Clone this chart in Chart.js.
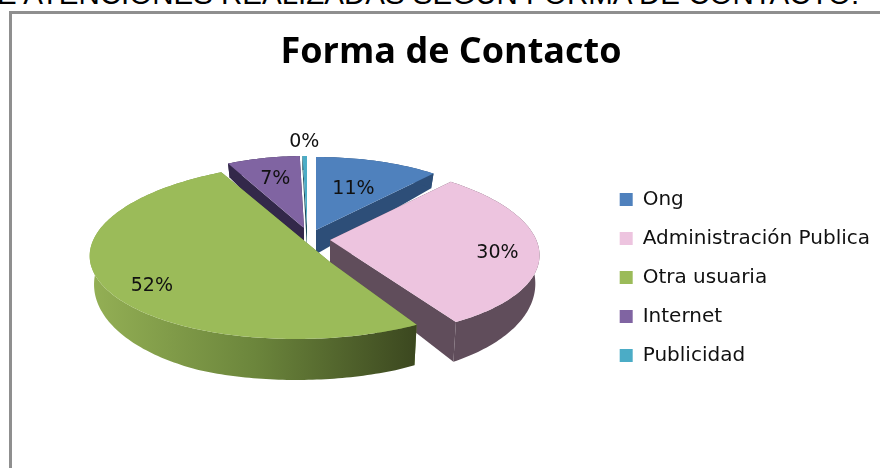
<!DOCTYPE html>
<html><head><meta charset="utf-8">
<style>
html,body{margin:0;padding:0;background:#fff;overflow:hidden}
#page{position:relative;width:880px;height:468px;overflow:hidden;background:#fff}
#head{position:absolute;left:-3px;top:-23px;white-space:nowrap;font:29.5px "Liberation Sans",Arial,sans-serif;color:#000}
#frame{position:absolute;left:9px;top:11px;width:880px;height:470px;border-left:3px solid #8f8f8f;border-top:3px solid #8f8f8f}
canvas{position:absolute;left:0;top:0}
</style></head><body>
<div id="page">
<div id="head">E ATENCIONES REALIZADAS SEGÚN FORMA DE CONTACTO:</div>
<div id="frame"></div>
<canvas id="c" width="880" height="468"></canvas>
</div>
<script src="https://cdn.jsdelivr.net/npm/chart.js@4/dist/chart.umd.min.js"></script>
<script>
const categories = ["Ong","Administración Publica","Otra usuaria","Internet","Publicidad"];
const values = [11, 30, 52, 7, 0.4];
const titleText = "Forma de Contacto";
const colors = ["#4F81BD","#EDC4DF","#9BBB59","#8064A2","#4BACC6"];
const wallColors = ["#2D4E78","#604D5B","#6F8A3E","#33284A","#1E4F5C"];
// 3D projection of each wedge: ellipse centre, radii, lean and wedge apex
const frames = [
 {cx:316,cy:230,a:185,b:73,s:0,ax:316,ay:230},
 {cx:329,cy:249,a:210,b:87,s:-15,ax:330,ay:240},
 {cx:308,cy:251,a:218,b:88,s:12,ax:330,ay:262},
 {cx:304,cy:228,a:170,b:72,s:0,ax:304,ay:228},
 {cx:307,cy:226,a:180,b:70,s:0,ax:307,ay:226}
];
const labelRadius = [0.6,0.8,0.8,0.7,1.2];
const paintOrder = [0,4,3,1,2];

const depth = y => Math.min(41, Math.max(14, 14 + (y-170)*0.17));
function rim(f,t){return {x:f.cx+f.a*Math.sin(t)+f.s*Math.cos(t), y:f.cy-f.b*Math.cos(t)};}
function drop(p,f){return {x:f.cx+(p.x-f.cx)*0.98, y:p.y+depth(p.y)};}

const pie3d = {
  id:'pie3d',
  beforeDatasetDraw(chart){
    const ctx = chart.ctx, arcs = chart.getDatasetMeta(0).data;
    const total = values.reduce((p,c)=>p+c,0);
    for(const i of paintOrder){
      const arc = arcs[i], f = frames[i];
      const t0 = arc.startAngle+Math.PI/2, t1 = arc.endAngle+Math.PI/2;
      const pts=[]; const n=Math.max(4,Math.ceil((t1-t0)/0.02));
      for(let k=0;k<=n;k++) pts.push(rim(f,t0+(t1-t0)*k/n));
      const apex={x:f.ax,y:f.ay}, low=drop(apex,f);
      ctx.fillStyle=wallColors[i];
      for(const e of [pts[0],pts[n]]){
        const d=drop(e,f);
        ctx.beginPath();ctx.moveTo(apex.x,apex.y);ctx.lineTo(e.x,e.y);ctx.lineTo(d.x,d.y);ctx.lineTo(low.x,low.y);ctx.closePath();ctx.fill();
      }
      let fill=wallColors[i];
      if(i===2){
        const g=ctx.createLinearGradient(90,0,417,0);
        g.addColorStop(0,"#94B055");g.addColorStop(0.5,"#6C863C");g.addColorStop(1,"#3B471F");
        fill=g;
      }
      ctx.fillStyle=fill;
      ctx.beginPath();
      pts.forEach((p,k)=>k?ctx.lineTo(p.x,p.y):ctx.moveTo(p.x,p.y));
      for(let k=n;k>=0;k--){const d=drop(pts[k],f);ctx.lineTo(d.x,d.y);}
      ctx.closePath();ctx.fill();
      ctx.fillStyle=colors[i];
      ctx.beginPath();ctx.moveTo(apex.x,apex.y);
      pts.forEach(p=>ctx.lineTo(p.x,p.y));
      ctx.closePath();ctx.fill();
    }
    ctx.fillStyle="#111";ctx.font='19px "DejaVu Sans"';ctx.textAlign="center";ctx.textBaseline="middle";
    arcs.forEach((arc,i)=>{
      const f=frames[i], t=(arc.startAngle+arc.endAngle)/2+Math.PI/2, r=labelRadius[i];
      const x=f.cx+r*(f.a*Math.sin(t)+f.s*Math.cos(t)), y=f.cy-r*f.b*Math.cos(t);
      ctx.fillText(Math.round(values[i]/total*100)+"%",x,y);
    });
    return false;
  }
};

new Chart(document.getElementById('c'),{
  type:'pie',
  data:{labels:categories,datasets:[{data:values,backgroundColor:colors,borderWidth:0}]},
  plugins:[pie3d],
  options:{
    responsive:false,animation:false,
    layout:{padding:{left:22,right:0,top:31,bottom:-56}},
    plugins:{
      tooltip:{enabled:false},
      title:{display:true,text:titleText,color:"#000",font:{family:"Open Sans",size:36,weight:"bold"},padding:{top:0,bottom:10}},
      legend:{position:'right',labels:{boxWidth:13,boxHeight:13,padding:19,color:"#111",font:{family:"DejaVu Sans",size:20}}}
    }
  }
});
</script>
</body></html>
